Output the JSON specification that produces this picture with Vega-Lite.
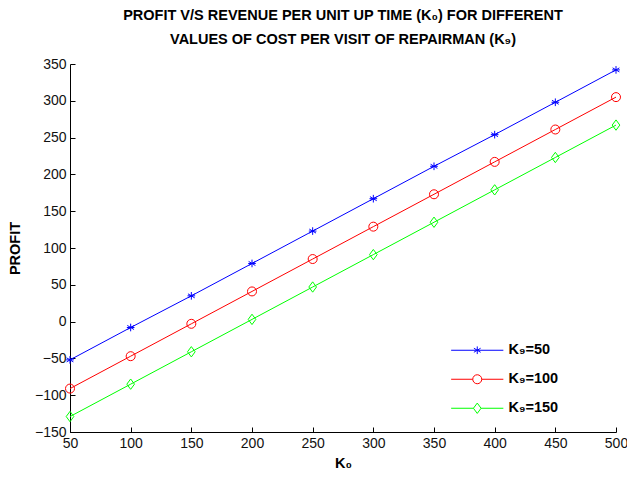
{
  "$schema": "https://vega.github.io/schema/vega-lite/v6.json",
  "width": 546,
  "height": 368,
  "autosize": {"type": "none"},
  "padding": {"left": 70, "top": 64, "right": 11, "bottom": 45},
  "background": "white",
  "config": {
    "view": {"stroke": null},
    "font": "Liberation Sans",
    "axis": {"grid": false, "domainColor": "#000", "tickColor": "#000", "labelColor": "#111", "labelFont": "Liberation Sans", "labelFontSize": 14, "titleFont": "Liberation Sans", "titleFontSize": 14.5, "titleFontWeight": "bold", "titleColor": "#000"}
  },
  "title": {
    "text": ["PROFIT V/S REVENUE PER UNIT UP TIME (K₀) FOR DIFFERENT", "VALUES OF COST PER VISIT OF REPAIRMAN (K₉)"],
    "anchor": "middle",
    "font": "Liberation Sans",
    "fontSize": 14.5,
    "fontWeight": "bold",
    "color": "#000",
    "lineHeight": 24,
    "offset": 10
  },
  "data": {
    "values": [
      {"k0": 50, "profit": -52, "series": "K₉=50"},
      {"k0": 100, "profit": -8, "series": "K₉=50"},
      {"k0": 150, "profit": 35, "series": "K₉=50"},
      {"k0": 200, "profit": 79, "series": "K₉=50"},
      {"k0": 250, "profit": 123, "series": "K₉=50"},
      {"k0": 300, "profit": 167, "series": "K₉=50"},
      {"k0": 350, "profit": 211, "series": "K₉=50"},
      {"k0": 400, "profit": 254, "series": "K₉=50"},
      {"k0": 450, "profit": 298, "series": "K₉=50"},
      {"k0": 500, "profit": 342, "series": "K₉=50"},
      {"k0": 50, "profit": -91, "series": "K₉=100"},
      {"k0": 100, "profit": -47, "series": "K₉=100"},
      {"k0": 150, "profit": -3, "series": "K₉=100"},
      {"k0": 200, "profit": 41, "series": "K₉=100"},
      {"k0": 250, "profit": 85, "series": "K₉=100"},
      {"k0": 300, "profit": 129, "series": "K₉=100"},
      {"k0": 350, "profit": 173, "series": "K₉=100"},
      {"k0": 400, "profit": 217, "series": "K₉=100"},
      {"k0": 450, "profit": 261, "series": "K₉=100"},
      {"k0": 500, "profit": 305, "series": "K₉=100"},
      {"k0": 50, "profit": -129, "series": "K₉=150"},
      {"k0": 100, "profit": -85, "series": "K₉=150"},
      {"k0": 150, "profit": -41, "series": "K₉=150"},
      {"k0": 200, "profit": 3, "series": "K₉=150"},
      {"k0": 250, "profit": 47, "series": "K₉=150"},
      {"k0": 300, "profit": 91, "series": "K₉=150"},
      {"k0": 350, "profit": 135, "series": "K₉=150"},
      {"k0": 400, "profit": 179, "series": "K₉=150"},
      {"k0": 450, "profit": 223, "series": "K₉=150"},
      {"k0": 500, "profit": 267, "series": "K₉=150"}
    ]
  },
  "encoding": {
    "x": {"field": "k0", "type": "quantitative", "title": "K₀",
      "scale": {"domain": [50, 500], "nice": false, "zero": false},
      "axis": {"values": [50, 100, 150, 200, 250, 300, 350, 400, 450, 500], "tickSize": -5, "labelPadding": 9, "titlePadding": 6, "labelFlush": false}},
    "y": {"field": "profit", "type": "quantitative", "title": "PROFIT",
      "scale": {"domain": [-150, 350], "nice": false, "zero": false},
      "axis": {"values": [-150, -100, -50, 0, 50, 100, 150, 200, 250, 300, 350], "tickSize": -5, "labelPadding": 9, "titlePadding": 12}}
  },
  "resolve": {"scale": {"shape": "independent", "stroke": "independent"}},
  "layer": [
    {
      "mark": {"type": "line", "strokeWidth": 1},
      "encoding": {
        "color": {"field": "series", "type": "nominal", "legend": null,
          "scale": {"domain": ["K₉=50", "K₉=100", "K₉=150"], "range": ["#0000ff", "#ff0000", "#00ff00"]}}
      }
    },
    {
      "mark": {"type": "point", "filled": false, "strokeWidth": 1, "size": 81, "opacity": 1},
      "encoding": {
        "color": {"field": "series", "type": "nominal", "legend": null},
        "shape": {"field": "series", "type": "nominal", "legend": null,
          "scale": {"domain": ["K₉=50", "K₉=100", "K₉=150"],
            "range": ["M0,-0.85L0,0.85M-0.75,-0.45L0.75,0.45M-0.75,0.45L0.75,-0.45M-0.85,0L0.85,0", "M-1,0A1,1 0 1,1 1,0A1,1 0 1,1 -1,0Z", "M0,-1.15L0.85,0L0,1.15L-0.85,0Z"]}}
      }
    },
    {
      "transform": [{"filter": "datum.k0 < 0"}],
      "mark": {"type": "point", "filled": false, "strokeWidth": 1, "opacity": 1},
      "encoding": {
        "stroke": {"field": "series", "type": "nominal",
          "scale": {"domain": ["K₉=50", "K₉=100", "K₉=150"], "range": ["#0000ff", "#ff0000", "#00ff00"]},
          "legend": {"title": null, "orient": "none", "legendX": 400, "legendY": 279, "symbolSize": 81, "symbolStrokeWidth": 1, "labelFont": "Liberation Sans", "labelFontSize": 14.5, "labelFontWeight": "bold", "labelColor": "#000", "rowPadding": 14, "labelOffset": 24}},
        "shape": {"field": "series", "type": "nominal",
          "scale": {"domain": ["K₉=50", "K₉=100", "K₉=150"],
            "range": ["M-5.8,0L5.8,0M0,-0.85L0,0.85M-0.75,-0.45L0.75,0.45M-0.75,0.45L0.75,-0.45", "M-5.8,0L-1,0M1,0L5.8,0M-1,0A1,1 0 1,1 1,0A1,1 0 1,1 -1,0Z", "M-5.8,0L-0.85,0M0.85,0L5.8,0M0,-1.15L0.85,0L0,1.15L-0.85,0Z"]},
          "legend": {"title": null, "orient": "none", "legendX": 400, "legendY": 279, "symbolSize": 81, "labelFontSize": 14.5, "labelFontWeight": "bold", "rowPadding": 14, "labelOffset": 24}}
      }
    }
  ]
}
